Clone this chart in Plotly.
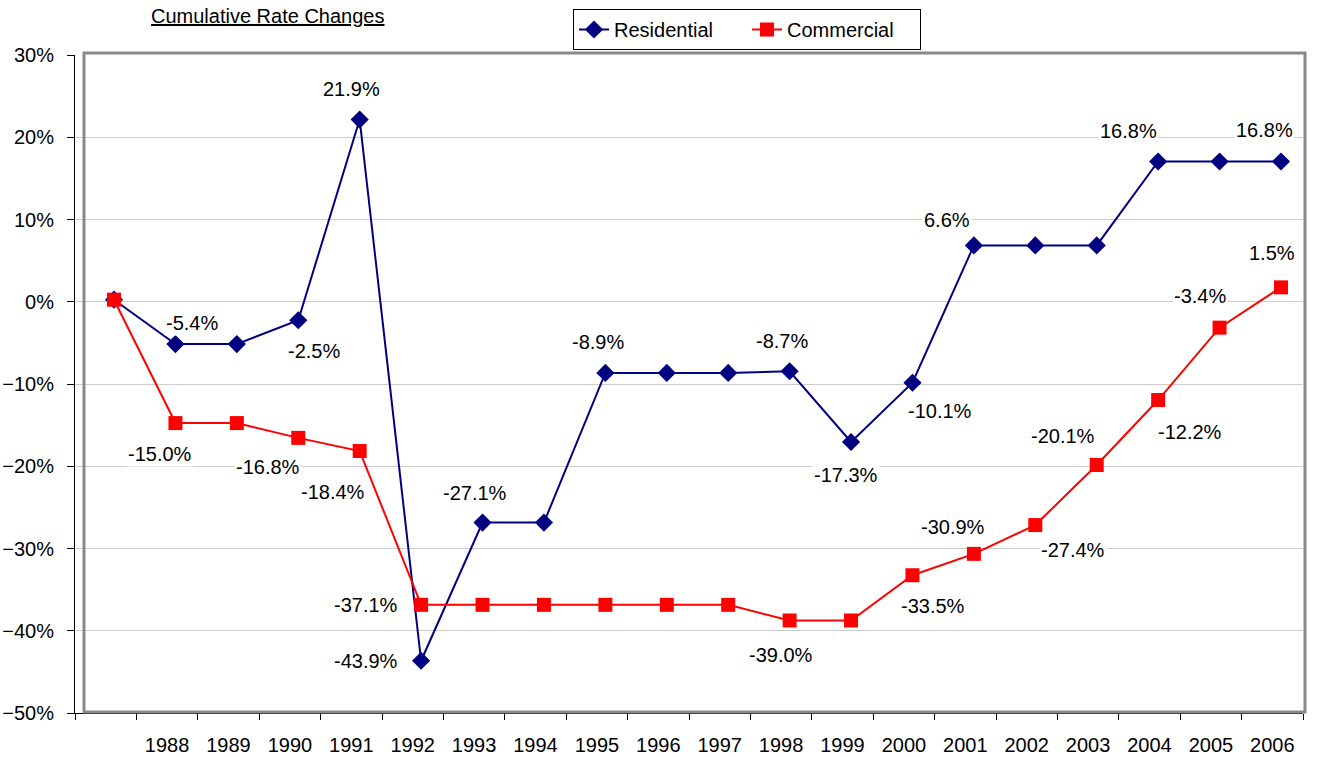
import plotly.graph_objects as go

# ---------------- data ----------------
categories = ["1987", "1988", "1989", "1990", "1991", "1992", "1993", "1994", "1995", "1996",
              "1997", "1998", "1999", "2000", "2001", "2002", "2003", "2004", "2005", "2006"]
tick_labels = [""] + categories[1:]

residential = [0.0, -5.4, -5.4, -2.5, 21.9, -43.9, -27.1, -27.1, -8.9, -8.9,
               -8.9, -8.7, -17.3, -10.1, 6.6, 6.6, 6.6, 16.8, 16.8, 16.8]
commercial = [0.0, -15.0, -15.0, -16.8, -18.4, -37.1, -37.1, -37.1, -37.1, -37.1,
              -37.1, -39.0, -39.0, -33.5, -30.9, -27.4, -20.1, -12.2, -3.4, 1.5]

# which points carry a data label
res_labelled = ["1988", "1990", "1991", "1992", "1993", "1995", "1998", "1999", "2000", "2001", "2004", "2006"]
com_labelled = ["1988", "1990", "1991", "1992", "1998", "2000", "2001", "2002", "2003", "2004", "2005", "2006"]

# ---------------- styles / layout ----------------
res_label_offsets = {"1988": (17, -21), "1990": (16, 31), "1991": (-8, -31), "1992": (-55, 0),
                     "1993": (-8, -30), "1995": (-7, -31), "1998": (-8, -30), "1999": (-5, 33),
                     "2000": (28, 28), "2001": (-27, -25), "2004": (-30, -31), "2006": (-16, -32)}
com_label_offsets = {"1988": (-15, 31), "1990": (-30, 29), "1991": (-27, 41), "1992": (-55, 0),
                     "1998": (-9, 35), "2000": (21, 31), "2001": (-21, -27), "2002": (38, 25),
                     "2003": (-34, -29), "2004": (32, 32), "2005": (-20, -32), "2006": (-9, -34)}

W, H = 1317, 757
L, R, T, B = 75, 14, 55, 44
plot_w = W - L - R
plot_h = H - T - B
FONT = "Liberation Sans, Arial, sans-serif"
FS = 20

n = len(categories)
idx = list(range(n))
# data axis (points sit slightly right of / above the category grid, as in the original)
first_px, step_px = 114 - L, 61.42
x2_lo = -first_px / step_px
x2_hi = x2_lo + plot_w / step_px
y_lo, y_hi = -50, 30
y_shift = 0.25

fig = go.Figure()
# invisible trace so the category axis (ticks + labels) is drawn
fig.add_trace(go.Scatter(x=idx, y=[None] * n, xaxis="x", yaxis="y", showlegend=False,
                         hoverinfo="skip", mode="markers"))
fig.add_trace(go.Scatter(
    x=idx, y=residential, xaxis="x2", yaxis="y2", name="Residential",
    mode="lines+markers", line=dict(color="#000080", width=2),
    marker=dict(symbol="diamond", size=14, color="#000080"),
))
fig.add_trace(go.Scatter(
    x=idx, y=commercial, xaxis="x2", yaxis="y2", name="Commercial",
    mode="lines+markers", line=dict(color="#FF0000", width=2),
    marker=dict(symbol="square", size=14, color="#FF0000"),
))

annotations = []
for series, labelled, offs in ((residential, res_labelled, res_label_offsets),
                               (commercial, com_labelled, com_label_offsets)):
    for cat in labelled:
        i = categories.index(cat)
        dx, dy = offs[cat]
        annotations.append(dict(
            x=i, y=series[i], xref="x2", yref="y2", text=f"{series[i]:.1f}%",
            showarrow=False, xshift=dx, yshift=-dy, bgcolor="white",
            xanchor="center", yanchor="middle",
            font=dict(family=FONT, size=FS, color="black"),
        ))

annotations.append(dict(
    x=(267 - L) / plot_w, y=(H - B - 16) / plot_h, xref="paper", yref="paper",
    xanchor="center", yanchor="middle",
    text="<u>Cumulative Rate Changes</u>", showarrow=False,
    font=dict(family=FONT, size=FS, color="black"),
))

boundaries = [i - 0.5 for i in range(n + 1)]

fig.update_layout(
    width=W, height=H,
    margin=dict(l=L, r=R, t=T, b=B, pad=0, autoexpand=False),
    paper_bgcolor="white", plot_bgcolor="white",
    font=dict(family=FONT, size=FS, color="black"),
    showlegend=True,
    legend=dict(
        orientation="h", x=(573 - L) / plot_w, y=(H - B - 9) / plot_h,
        xanchor="left", yanchor="top", bordercolor="black", borderwidth=1,
        bgcolor="white", font=dict(family=FONT, size=FS, color="black"),
        itemsizing="trace", tracegroupgap=0, entrywidth=128, entrywidthmode="pixels",
    ),
    xaxis=dict(
        range=[-0.5, n - 0.5], tickmode="array", tickvals=idx, ticktext=tick_labels,
        ticks="", showgrid=False, zeroline=False, showline=True, linecolor="black",
        linewidth=1, tickfont=dict(family=FONT, size=FS, color="black"), ticklabelstandoff=14,
        automargin=False,
        minor=dict(tickmode="array", tickvals=boundaries, ticks="outside", ticklen=6,
                   tickcolor="black", tickwidth=1, showgrid=False),
    ),
    xaxis2=dict(range=[x2_lo, x2_hi], overlaying="x", anchor="y", visible=False,
                showgrid=False, zeroline=False, automargin=False),
    yaxis=dict(
        range=[y_lo, y_hi], tickmode="linear", tick0=-50, dtick=10, ticksuffix="%",
        ticks="outside", ticklen=7, tickcolor="black", showline=True, linecolor="black",
        linewidth=1, showgrid=True, gridcolor="#CCCCCC", gridwidth=1, zeroline=False,
        tickfont=dict(family=FONT, size=FS, color="black"), ticklabelstandoff=9,
        automargin=False,
    ),
    yaxis2=dict(range=[y_lo - y_shift, y_hi - y_shift], overlaying="y", anchor="x2",
                visible=False, showgrid=False, zeroline=False, automargin=False),
    annotations=annotations,
    shapes=[dict(type="rect", xref="paper", yref="paper",
                 x0=(84 - L) / plot_w, x1=(1305 - L) / plot_w,
                 y0=(H - B - 712) / plot_h, y1=(H - B - 53) / plot_h,
                 line=dict(color="#8A8A8A", width=3), layer="above")],
)

fig.write_html("out.html", config={"displayModeBar": False},
               post_script="document.body.style.margin='0';")
